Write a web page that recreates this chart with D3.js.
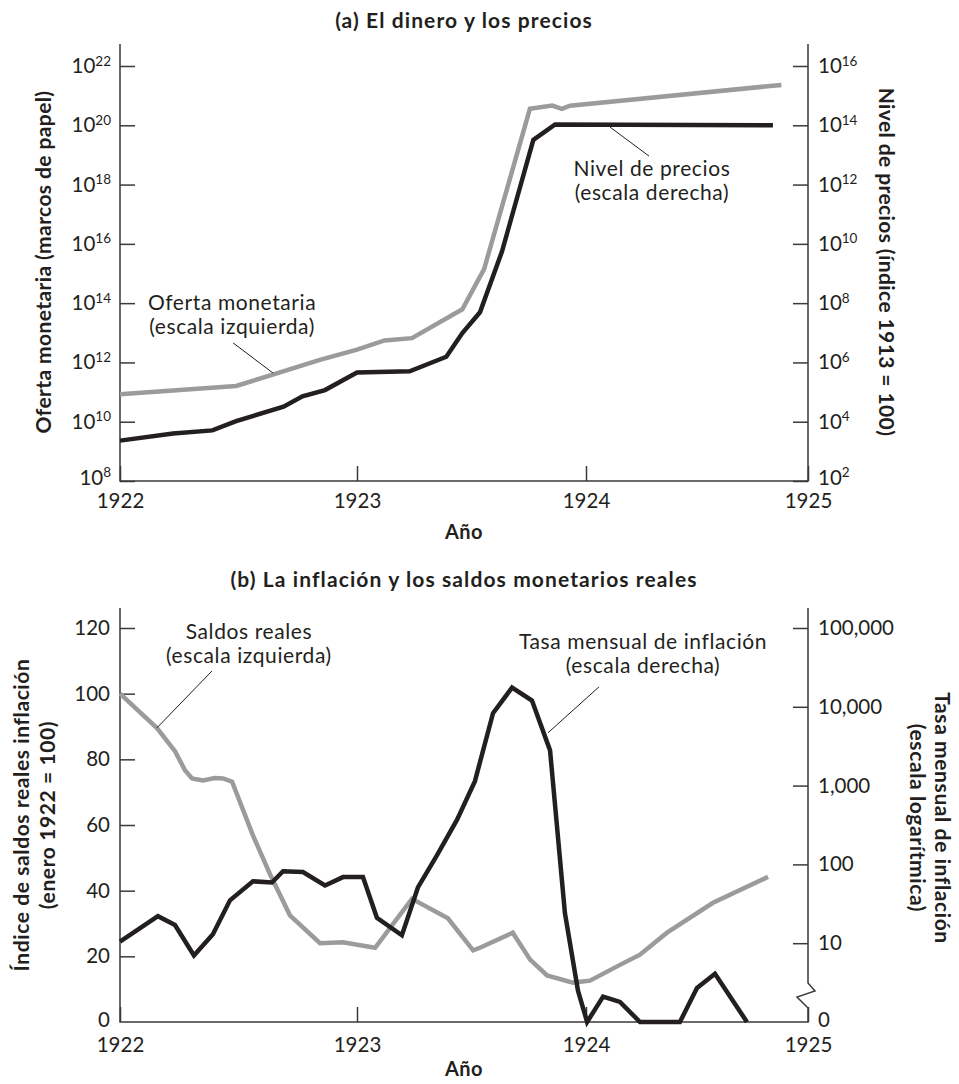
<!DOCTYPE html>
<html><head><meta charset="utf-8">
<script src="https://cdn.jsdelivr.net/npm/d3@7"></script>
<style>
body{margin:0;background:#fff}
svg{display:block}
text{font-family:Lato,"Open Sans",sans-serif;fill:#231f20}
</style>
</head><body>
<svg id="c" width="959" height="1084"></svg>
<script>
// ---------- DATA ----------
const yearTicks = [1922, 1923, 1924, 1925];

// Panel (a): money supply (paper marks, left scale)
const moneyYears  = [1922.00, 1922.49, 1922.675, 1922.84, 1923.00, 1923.12, 1923.24, 1923.46, 1923.555, 1923.755, 1923.852, 1923.895, 1923.93, 1924.88];
const moneyValues = [8.5e10, 1.6e11, 4.6e11, 1.2e12, 2.7e12, 5.5e12, 6.6e12, 6.2e13, 1.4e15, 3.6e20, 4.6e20, 3.6e20, 4.6e20, 2.3e21];

// Panel (a): price level (index 1913 = 100, right scale)
const priceYears  = [1922.00, 1922.224, 1922.39, 1922.49, 1922.69, 1922.77, 1922.865, 1923.00, 1923.23, 1923.39, 1923.46, 1923.537, 1923.633, 1923.77, 1923.865, 1924.842];
const priceValues = [2.3e3, 4.0e3, 5.1e3, 1.05e4, 3.2e4, 7.2e4, 1.17e5, 4.6e5, 5.0e5, 1.55e6, 9.8e6, 4.9e7, 5.5e9, 3.2e13, 1.07e14, 1.0e14];

const leftExpTicks  = [8, 10, 12, 14, 16, 18, 20, 22];
const rightExpTicks = [2, 4, 6, 8, 10, 12, 14, 16];

// Panel (b): real balances index (Jan 1922 = 100, left scale)
const realYears  = [1922.00, 1922.156, 1922.232, 1922.274, 1922.304, 1922.35, 1922.40, 1922.435, 1922.473, 1922.56, 1922.633, 1922.717, 1922.844, 1922.94, 1923.079, 1923.24, 1923.397, 1923.507, 1923.537, 1923.68, 1923.756, 1923.83, 1923.943, 1924.018, 1924.153, 1924.243, 1924.365, 1924.572, 1924.82];
const realValues = [100, 89.5, 82.5, 76.7, 74.2, 73.6, 74.3, 74.2, 73.2, 57, 45, 32.5, 24.0, 24.3, 22.6, 37.5, 31.6, 21.8, 22.6, 27.2, 19, 14.2, 12.0, 12.6, 17.4, 20.5, 27.2, 36.3, 44.2];

// Panel (b): monthly inflation rate (%, right log scale; 0 drawn at the broken-axis floor)
const inflYears  = [1922.00, 1922.16, 1922.232, 1922.312, 1922.392, 1922.464, 1922.561, 1922.641, 1922.688, 1922.772, 1922.865, 1922.941, 1923.026, 1923.087, 1923.196, 1923.266, 1923.349, 1923.437, 1923.515, 1923.594, 1923.677, 1923.764, 1923.843, 1923.908, 1923.965, 1924.005, 1924.077, 1924.153, 1924.243, 1924.423, 1924.50, 1924.581, 1924.725];
const inflValues = [10.5, 22, 17, 7, 13, 35, 61, 59, 82, 80, 54, 69, 69, 21, 12.6, 51, 130, 370, 1140, 8300, 17500, 12000, 2800, 24, 2.5, 0, 2.1, 1.8, 0, 0, 2.7, 4.1, 0];

const realTicks = [0, 20, 40, 60, 80, 100, 120];
const inflTicks = [1, 10, 100, 1000, 10000, 100000];

// ---------- DRAWING ----------
const svg = d3.select("#c");
const INK = "#231f20", GRAY = "#9b9b9d", AX = "#3a3a3a";

const x = d3.scaleLinear().domain(yearTicks).range([120, 357, 586, 808]);
const X0 = 120, X1 = 808;

// Panel (a) scales
const aTop = 44, aBot = 481;
const yL = d3.scaleLog().domain([1e8, 1e22]).range([aBot, 66]);
const yR = d3.scaleLog().domain([1e2, 1e16]).range([aBot, 66]);

// Panel (b) scales
const bTop = 608, bBot = 1022;
const yB = d3.scaleLinear().domain([0, 120]).range([bBot, 628]);
const yI = d3.scaleLog().domain([1, 1e5]).range([bBot, 628]);

const TICK_FS = 20.5, NOTE_FS = 21, AXT_FS = 21, TITLE_FS = 21;

function supLabels(g, exps) {
  g.selectAll(".tick text").each(function(d, i) {
    const t = d3.select(this);
    t.text(null);
    t.append("tspan").text("10");
    t.append("tspan").attr("dy", "-0.55em").attr("font-size", "13.5px").text(exps[i]);
  });
}
function styleAxis(g) {
  g.select(".domain").remove();
  g.selectAll(".tick line").attr("stroke", AX).attr("stroke-width", 1.5);
  g.selectAll(".tick text").attr("font-size", TICK_FS).attr("fill", "#333").attr("font-family", "Lato, sans-serif");
}
function boldText(g, tx, txt, fs, ls) {
  return g.append("text").attr("transform", tx).attr("text-anchor", "middle").attr("dominant-baseline", "central")
    .attr("font-size", fs).attr("font-weight", 700).attr("letter-spacing", ls).text(txt);
}
function label2(g, cx, y1, y2, l1, l2) {
  [[y1, l1], [y2, l2]].forEach(([yy, s]) => {
    g.append("text").attr("x", cx).attr("y", yy).attr("text-anchor", "middle").attr("dominant-baseline", "central")
      .attr("font-size", NOTE_FS).attr("letter-spacing", 0.6).attr("fill", "#2a2a2a").text(s);
  });
}

// ---- Panel (a) ----
const a = svg.append("g");
boldText(a, "translate(464,19)", "(a) El dinero y los precios", TITLE_FS, 1.1);

const gaL = a.append("g").attr("transform", `translate(${X0},0)`)
  .call(d3.axisLeft(yL).tickValues(leftExpTicks.map(e => Math.pow(10, e))).tickSize(-15).tickPadding(9).tickFormat(() => ""));
styleAxis(gaL); supLabels(gaL, leftExpTicks);
gaL.selectAll(".tick").filter(d => d === 1e8).select("text").attr("dy", "0.15em");
const gaR = a.append("g").attr("transform", `translate(${X1},0)`)
  .call(d3.axisRight(yR).tickValues(rightExpTicks.map(e => Math.pow(10, e))).tickSize(-15).tickPadding(10).tickFormat(() => ""));
styleAxis(gaR); supLabels(gaR, rightExpTicks);
gaR.selectAll(".tick").filter(d => d === 1e2).select("text").attr("dy", "0.15em");
const gaX = a.append("g").attr("transform", `translate(0,${aBot})`)
  .call(d3.axisBottom(x).tickValues(yearTicks).tickSize(-15).tickPadding(12).tickFormat(d3.format("d")));
styleAxis(gaX);

a.append("path").attr("fill", "none").attr("stroke", AX).attr("stroke-width", 1.5)
  .attr("d", `M${X0},${aTop}V${aBot}H${X1}V${aTop}`);

a.append("path").attr("fill", "none").attr("stroke", GRAY).attr("stroke-width", 4.5).attr("stroke-linejoin", "miter")
  .attr("d", d3.line().x(d => x(d[0])).y(d => yL(d[1]))(moneyYears.map((t, i) => [t, moneyValues[i]])));
a.append("path").attr("fill", "none").attr("stroke", INK).attr("stroke-width", 4.5).attr("stroke-linejoin", "miter")
  .attr("d", d3.line().x(d => x(d[0])).y(d => yR(d[1]))(priceYears.map((t, i) => [t, priceValues[i]])));

// annotations (a)
label2(a, x(1922.473), yL(Math.pow(10, 14.04)), yL(Math.pow(10, 13.23)), "Oferta monetaria", "(escala izquierda)");
a.append("line").attr("stroke", INK).attr("stroke-width", 1)
  .attr("x1", x(1922.477)).attr("y1", yL(Math.pow(10, 12.66))).attr("x2", x(1922.646)).attr("y2", yL(Math.pow(10, 11.64)));
label2(a, x(1924.297), yR(Math.pow(10, 12.56)), yR(Math.pow(10, 11.75)), "Nivel de precios", "(escala derecha)");
a.append("line").attr("stroke", INK).attr("stroke-width", 1)
  .attr("x1", x(1924.108)).attr("y1", yR(Math.pow(10, 13.94))).attr("x2", x(1924.284)).attr("y2", yR(Math.pow(10, 12.96)));

boldText(a, "translate(42,262) rotate(-90)", "Oferta monetaria (marcos de papel)", AXT_FS, 0.4);
boldText(a, "translate(887,262) rotate(90)", "Nivel de precios (índice 1913 = 100)", AXT_FS, 0.4);
boldText(a, "translate(464,531)", "Año", 20, 0.5);

// ---- Panel (b) ----
const b = svg.append("g");
boldText(b, "translate(464,578)", "(b) La inflación y los saldos monetarios reales", TITLE_FS, 1.1);

const gbL = b.append("g").attr("transform", `translate(${X0},0)`)
  .call(d3.axisLeft(yB).tickValues(realTicks).tickSize(-15).tickPadding(10).tickFormat(d3.format("d")));
styleAxis(gbL);
gbL.selectAll(".tick line").filter(d => d === 0).remove();
gbL.selectAll(".tick text").filter(d => d === 0).attr("dy", "0.2em");
const gbR = b.append("g").attr("transform", `translate(${X1},0)`)
  .call(d3.axisRight(yI).tickValues(inflTicks).tickSize(-15).tickPadding(10).tickFormat(d => d === 1 ? "0" : d3.format(",")(d)));
styleAxis(gbR);
gbR.selectAll(".tick line").filter(d => d === 1).remove();
gbR.selectAll(".tick text").filter(d => d === 1).attr("dy", "0.2em");
const gbX = b.append("g").attr("transform", `translate(0,${bBot})`)
  .call(d3.axisBottom(x).tickValues(yearTicks).tickSize(-15).tickPadding(15).tickFormat(d3.format("d")));
styleAxis(gbX);

b.append("path").attr("fill", "none").attr("stroke", AX).attr("stroke-width", 1.5)
  .attr("d", `M${X0},${bTop}V${bBot}H${X1}V1008L797,997L815,991L${X1},983V${bTop}`);

b.append("path").attr("fill", "none").attr("stroke", GRAY).attr("stroke-width", 4.5).attr("stroke-linejoin", "miter")
  .attr("d", d3.line().x(d => x(d[0])).y(d => yB(d[1]))(realYears.map((t, i) => [t, realValues[i]])));
b.append("path").attr("fill", "none").attr("stroke", INK).attr("stroke-width", 4.5).attr("stroke-linejoin", "miter")
  .attr("d", d3.line().x(d => x(d[0])).y(d => yI(Math.max(1, d[1])))(inflYears.map((t, i) => [t, inflValues[i]])));

label2(b, x(1922.544), yB(119.1), yB(111.8), "Saldos reales", "(escala izquierda)");
b.append("line").attr("stroke", INK).attr("stroke-width", 1)
  .attr("x1", x(1922.388)).attr("y1", yB(106.9)).attr("x2", x(1922.156)).attr("y2", yB(89.6));
label2(b, x(1924.257), yI(Math.pow(10, 4.838)), yI(Math.pow(10, 4.533)), "Tasa mensual de inflación", "(escala derecha)");
b.append("line").attr("stroke", INK).attr("stroke-width", 1)
  .attr("x1", x(1924.059)).attr("y1", yI(Math.pow(10, 4.254))).attr("x2", x(1923.834)).attr("y2", yI(Math.pow(10, 3.67)));

boldText(b, "translate(20,815) rotate(-90)", "Índice de saldos reales inflación", AXT_FS, 0.6);
boldText(b, "translate(46,815) rotate(-90)", "(enero 1922 = 100)", AXT_FS, 0.6);
boldText(b, "translate(943,818) rotate(90)", "Tasa mensual de inflación", AXT_FS, 0.6);
boldText(b, "translate(918,818) rotate(90)", "(escala logarítmica)", AXT_FS, 0.6);
boldText(b, "translate(464,1068)", "Año", 20, 0.5);
</script>
</body></html>
